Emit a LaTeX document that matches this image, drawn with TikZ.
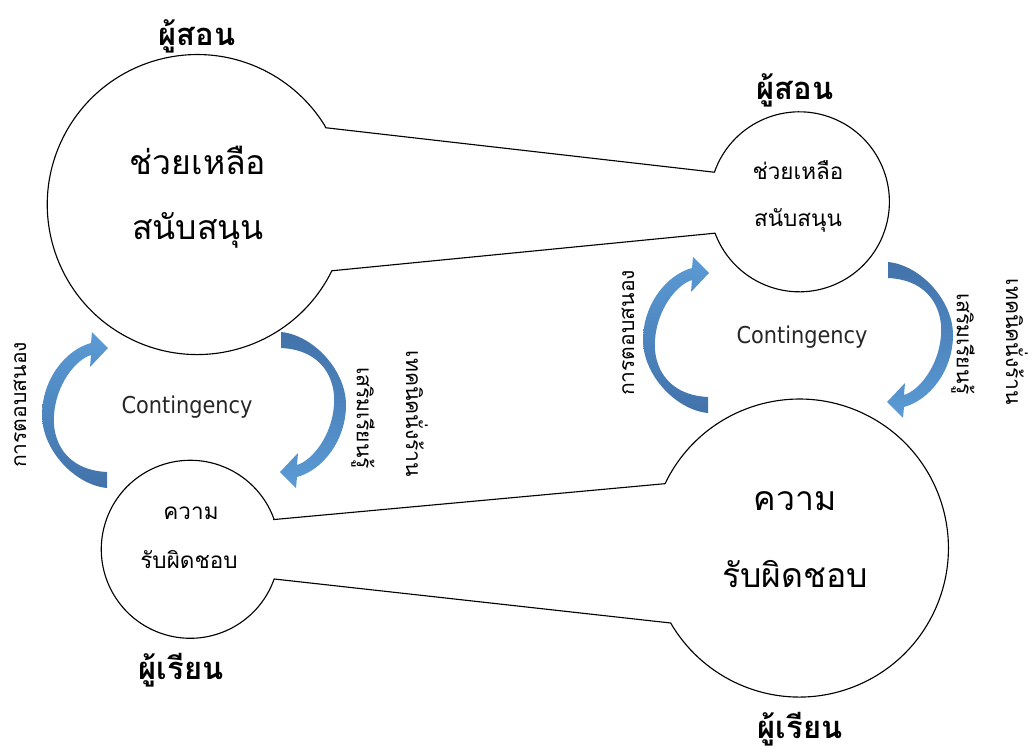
\documentclass[tikz,border=0pt]{standalone}
\usepackage{fontspec}
\setmainfont{Loma}[Script=Thai]
\newfontfamily\latinfont{DejaVu Sans Condensed}
\definecolor{arrowdark}{RGB}{66,114,170}
\definecolor{arrowlight}{RGB}{91,155,213}
\tikzset{
  bendarrow/.pic={
    \shade[arrowfill] (32,-62) .. controls (-10,-60) and (-23,-30) .. (-21,-5)
      .. controls (-19,25) and (0,50) .. (16,55) -- (15,43) -- (33,62) -- (17,78) -- (16,67)
      .. controls (-10,60) and (-33,30) .. (-33,-5)
      .. controls (-33,-40) and (0,-75) .. (32,-78) -- cycle;
  }
}
\begin{document}
\begin{tikzpicture}[x=0.025cm, y=0.025cm,
    blob/.style={circle, inner sep=0pt, outer sep=0pt},
    outline/.style={draw, line width=0.8pt, line join=round},
    bigtext/.style={font=\fontsize{24}{28}\selectfont},
    smalltext/.style={font=\fontsize{16}{19}\selectfont},
    who/.style={font=\fontsize{22}{26}\selectfont\bfseries},
    cont/.style={font=\latinfont\fontsize{16.5}{19}\selectfont, text=black!85},
    side/.style={font=\fontsize{15}{18}\selectfont},
    arrowfill/.style={top color=arrowlight, bottom color=arrowdark}]
  \useasboundingbox (0,0) rectangle (1034,-751);

  % circles
  \node[blob, minimum size=7.5cm] (tlbig) at (197,-205) {};
  \node[blob, minimum size=4.5cm] (trsmall) at (799,-203) {};
  \node[blob, minimum size=4.45cm] (blsmall) at (190,-550) {};
  \node[blob, minimum size=7.45cm] (brbig) at (799,-549) {};

  % outlines
  \draw[outline] (tlbig.31.7) -- (trsmall.160.8)
    arc[start angle=160.8, end angle=-159.6, radius=90] -- (tlbig.-26.2)
    arc[start angle=-26.2, end angle=-328.3, radius=150] -- cycle;
  \draw[outline] (blsmall.20) -- (brbig.154.4)
    arc[start angle=154.4, end angle=-149.8, radius=149] -- (blsmall.-19.5)
    arc[start angle=-19.5, end angle=-340, radius=89] -- cycle;

  % texts
  \node[bigtext] (tlhelp) at (198,-160) {ช่วยเหลือ};
  \node[bigtext] (tlsupport) at (198,-230) {สนับสนุน};
  \node[smalltext] (trhelp) at (798,-170) {ช่วยเหลือ};
  \node[smalltext] (trsupport) at (798,-220) {สนับสนุน};
  \node[smalltext] (blduty) at (191,-513) {ความ};
  \node[smalltext] (blresp) at (189,-560) {รับผิดชอบ};
  \node[bigtext] (brduty) at (795,-501) {ความ};
  \node[bigtext] (brresp) at (795,-574) {รับผิดชอบ};
  \node[who] (tlwho) at (197,-36) {ผู้สอน};
  \node[who] (trwho) at (795,-90) {ผู้สอน};
  \node[who] (blwho) at (181,-670) {ผู้เรียน};
  \node[who] (brwho) at (800,-729) {ผู้เรียน};
  \node[cont] (tlcont) at (187,-407) {Contingency};
  \node[cont] (trcont) at (802,-337) {Contingency};
  \node[side, rotate=90] (tlreply) at (20,-405) {การตอบสนอง};
  \node[side, rotate=90] (trreply) at (628,-333) {การตอบสนอง};
  \node[side, rotate=-90] (tlboost) at (363,-418) {เสริมเรียนรู้};
  \node[side, rotate=-90] (tlscaf) at (417,-414) {เทคนิคนั่งร้าน};
  \node[side, rotate=-90] (trboost) at (963,-344) {เสริมเรียนรู้};
  \node[side, rotate=-90] (trscaf) at (1017,-342) {เทคนิคนั่งร้าน};

  % arrows
  \pic at (75,-410) {bendarrow};
  \pic[rotate=180, arrowfill/.style={top color=arrowdark, bottom color=arrowlight}] at (313,-410) {bendarrow};
  \pic at (676,-335) {bendarrow};
  \pic[rotate=180, arrowfill/.style={top color=arrowdark, bottom color=arrowlight}] at (920,-340) {bendarrow};
\end{tikzpicture}
\end{document}
